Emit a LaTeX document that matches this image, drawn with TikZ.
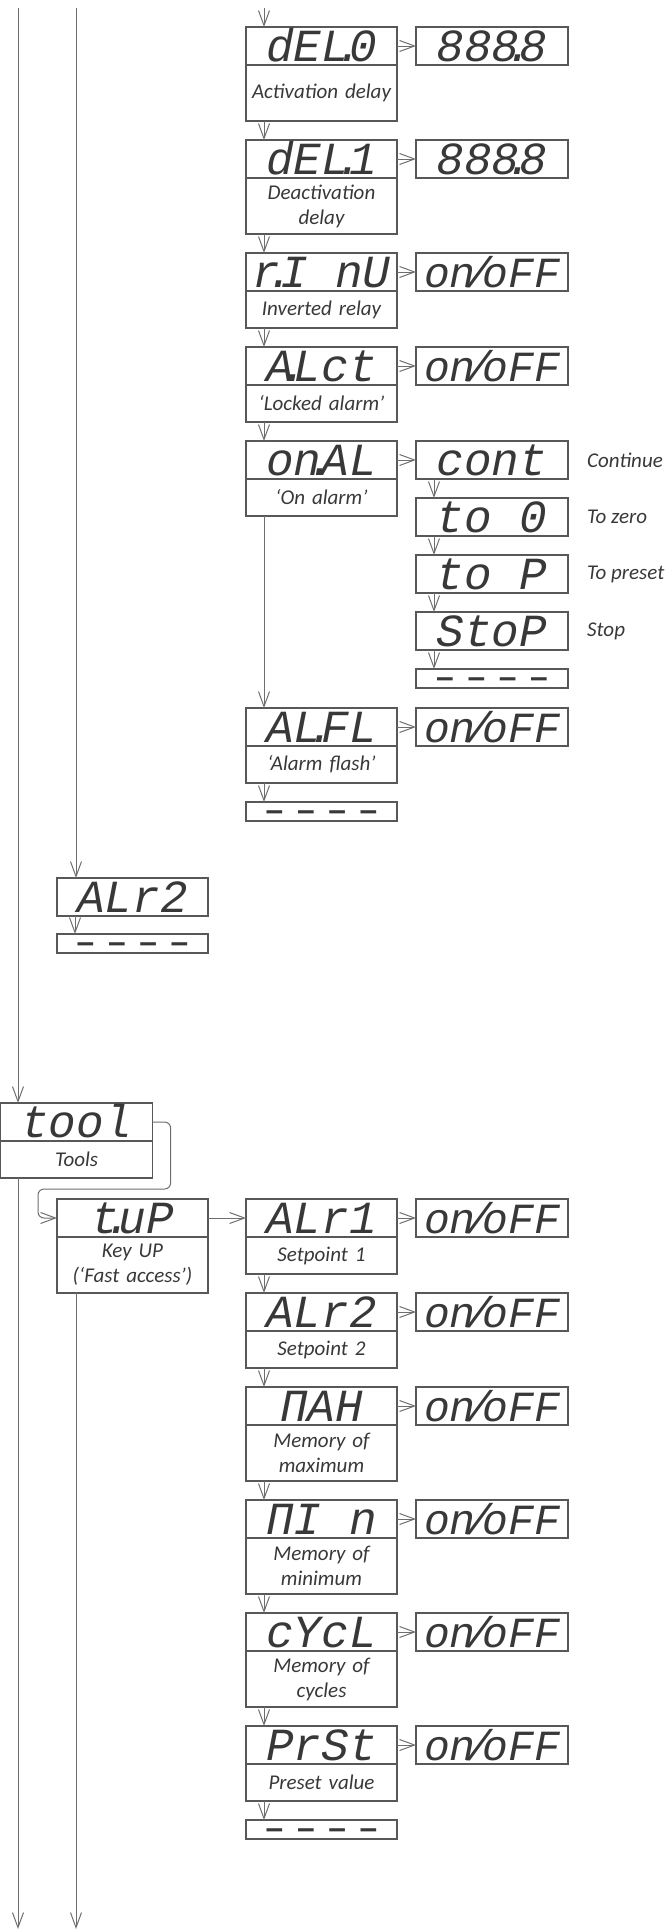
\documentclass[tikz,border=0pt]{standalone}
\usepackage{fontspec}
\setmainfont{Carlito}
\newfontfamily\segfont{Liberation Mono}
\newfontfamily\dashfont{DejaVu Sans Mono}
\usetikzlibrary{positioning, arrows.meta}
\definecolor{boxgray}{HTML}{585858}
\definecolor{linegray}{HTML}{6E6E6E}
\definecolor{inkgray}{HTML}{383838}
\newcommand{\segdot}{\kern-.3em.\kern-.3em}
\newcommand{\segsl}{\kern-.22em/\kern-.22em}
\newcommand{\onoff}{{\fontsize{43}{43}\selectfont on\segsl oFF}}
\newcommand{\segdash}{\raisebox{-.3em}{— — — —}}
\tikzstyle{code} = [rectangle, 
minimum width=151pt, 
minimum height=38pt, 
inner sep=0pt, outer sep=0pt,
text height=31pt, text depth=0pt,
draw=boxgray, line width=1.2pt, 
text=inkgray, 
font=\segfont\itshape\fontsize{46}{46}\selectfont]
\tikzstyle{val} = [code, minimum width=152pt]
\tikzstyle{dashbox} = [code, 
minimum height=19pt, 
text height=0pt, 
font=\dashfont\bfseries\fontsize{26}{26}\selectfont]
\tikzstyle{desc} = [rectangle, 
minimum width=151pt, 
text width=147pt, 
align=center, 
inner sep=0pt, outer sep=0pt,
draw=boxgray, line width=1.2pt, 
text=inkgray, 
font=\itshape\fontsize{21}{25}\selectfont]
\tikzstyle{desc1} = [desc, minimum height=37pt]
\tikzstyle{desc2} = [desc, minimum height=56pt]
\tikzstyle{note} = [inner sep=0pt, text=inkgray, font=\itshape\fontsize{21}{25}\selectfont]
\tikzstyle{arrow} = [draw=linegray, line width=1pt, -{Straight Barb[length=15pt, width=11pt]}]

\begin{document}
\begin{tikzpicture}[x=1pt, y=-1pt, node distance=19pt]
\useasboundingbox (0,0) rectangle (666,1930);

% alarm 1 sub-menu
\node (del0) [code] at (321.5,46) {dEL\segdot 0};
\node (del0d) [desc2, below=0pt of del0] {Activation delay};
\node (del1) [code, below=of del0d] {dEL\segdot 1};
\node (del1d) [desc2, below=0pt of del1] {Deactivation\\delay};
\node (rinu) [code, below=of del1d] {r\segdot I nU};
\node (rinud) [desc1, below=0pt of rinu] {Inverted relay};
\node (alct) [code, below=of rinud] {A\segdot Lct};
\node (alctd) [desc1, below=0pt of alct] {‘Locked alarm’};
\node (onal) [code, below=of alctd] {on\segdot AL};
\node (onald) [desc1, below=0pt of onal] {‘On alarm’};
\node (alfl) [code, below=192pt of onald] {AL\segdot FL};
\node (alfld) [desc1, below=0pt of alfl] {‘Alarm flash’};
\node (alflx) [dashbox, below=of alfld] {\segdash};

\node (del0v) [val, right=of del0] {888\segdot 8};
\node (del1v) [val, right=of del1] {888\segdot 8};
\node (rinuv) [val, right=of rinu] {\onoff};
\node (alctv) [val, right=of alct] {\onoff};
\node (cont) [val, right=of onal] {cont};
\node (to0) [val, below=of cont] {to 0};
\node (top) [val, below=of to0] {to P};
\node (stop) [val, below=of top] {StoP};
\node (stopx) [dashbox, minimum width=152pt, below=of stop] {\segdash};
\node (alflv) [val, right=of alfl] {\onoff};

\node (contn) [note, right=of cont] {Continue};
\node (to0n) [note, right=of to0] {To zero};
\node (topn) [note, right=of top] {To preset};
\node (stopn) [note, right=of stop] {Stop};

% alarm 2
\node (alrb) [code] at (132.5,897) {ALr2};
\node (alrbx) [dashbox, below=18pt of alrb] {\segdash};

% tools
\node (tool) [code, minimum width=152pt] at (76.6,1122) {tool};
\node (toold) [desc1, minimum width=152pt, below=0pt of tool] {Tools};
\node (tup) [code] at (132.5,1218) {t\segdot uP};
\node (tupd) [desc2, below=0pt of tup] {Key UP\\(‘Fast access’)};
\node (alr1) [code, right=38pt of tup] {ALr1};
\node (alr1d) [desc1, below=0pt of alr1] {Setpoint 1};
\node (alr2) [code, below=of alr1d] {ALr2};
\node (alr2d) [desc1, below=0pt of alr2] {Setpoint 2};
\node (max) [code, below=of alr2d] {ΠAH};
\node (maxd) [desc2, below=0pt of max] {Memory of\\maximum};
\node (min) [code, below=of maxd] {ΠI n};
\node (mind) [desc2, below=0pt of min] {Memory of\\minimum};
\node (cycl) [code, below=of mind] {cYcL};
\node (cycld) [desc2, below=0pt of cycl] {Memory of\\cycles};
\node (prst) [code, below=of cycld] {PrSt};
\node (prstd) [desc1, below=0pt of prst] {Preset value};
\node (prstx) [dashbox, below=of prstd] {\segdash};

\node (alr1v) [val, right=of alr1] {\onoff};
\node (alr2v) [val, right=of alr2] {\onoff};
\node (maxv) [val, right=of max] {\onoff};
\node (minv) [val, right=of min] {\onoff};
\node (cyclv) [val, right=of cycl] {\onoff};
\node (prstv) [val, right=of prst] {\onoff};

% free ends of the trunks
\coordinate (entry) at (264,8);
\coordinate (trunka) at (18,8);
\coordinate (trunkb) at (76,8);
\coordinate (enda) at (18,1929);
\coordinate (endb) at (76,1929);

% connectors
\draw [arrow] (trunka) -- (trunka |- tool.north);
\draw [arrow] (trunka |- toold.south) -- (enda);
\draw [arrow] (trunkb) -- (trunkb |- alrb.north);
\draw [arrow] (trunkb |- tupd.south) -- (endb);
\draw [arrow] (entry) -- (entry |- del0.north);

\draw [arrow] ([xshift=18pt]del0d.south west) -- ([xshift=18pt]del1.north west);
\draw [arrow] ([xshift=18pt]del1d.south west) -- ([xshift=18pt]rinu.north west);
\draw [arrow] ([xshift=18pt]rinud.south west) -- ([xshift=18pt]alct.north west);
\draw [arrow] ([xshift=18pt]alctd.south west) -- ([xshift=18pt]onal.north west);
\draw [arrow] ([xshift=18pt]onald.south west) -- ([xshift=18pt]alfl.north west);
\draw [arrow] ([xshift=18pt]alfld.south west) -- ([xshift=18pt]alflx.north west);

\draw [arrow] (del0) -- (del0v);
\draw [arrow] (del1) -- (del1v);
\draw [arrow] (rinu) -- (rinuv);
\draw [arrow] (alct) -- (alctv);
\draw [arrow] (onal) -- (cont);
\draw [arrow] (alfl) -- (alflv);

\draw [arrow] ([xshift=18pt]cont.south west) -- ([xshift=18pt]to0.north west);
\draw [arrow] ([xshift=18pt]to0.south west) -- ([xshift=18pt]top.north west);
\draw [arrow] ([xshift=18pt]top.south west) -- ([xshift=18pt]stop.north west);
\draw [arrow] ([xshift=18pt]stop.south west) -- ([xshift=18pt]stopx.north west);

\draw [arrow] ([xshift=18pt]alrb.south west) -- ([xshift=18pt]alrbx.north west);

\draw [arrow, rounded corners=6pt] (tool.east) -- ++(18,0) -- ++(0,67) -| ([xshift=-19pt]tup.west) -- (tup.west);
\draw [arrow] (tup) -- (alr1);
\draw [arrow] ([xshift=18pt]alr1d.south west) -- ([xshift=18pt]alr2.north west);
\draw [arrow] ([xshift=18pt]alr2d.south west) -- ([xshift=18pt]max.north west);
\draw [arrow] ([xshift=18pt]maxd.south west) -- ([xshift=18pt]min.north west);
\draw [arrow] ([xshift=18pt]mind.south west) -- ([xshift=18pt]cycl.north west);
\draw [arrow] ([xshift=18pt]cycld.south west) -- ([xshift=18pt]prst.north west);
\draw [arrow] ([xshift=18pt]prstd.south west) -- ([xshift=18pt]prstx.north west);

\draw [arrow] (alr1) -- (alr1v);
\draw [arrow] (alr2) -- (alr2v);
\draw [arrow] (max) -- (maxv);
\draw [arrow] (min) -- (minv);
\draw [arrow] (cycl) -- (cyclv);
\draw [arrow] (prst) -- (prstv);

\end{tikzpicture}
\end{document}
